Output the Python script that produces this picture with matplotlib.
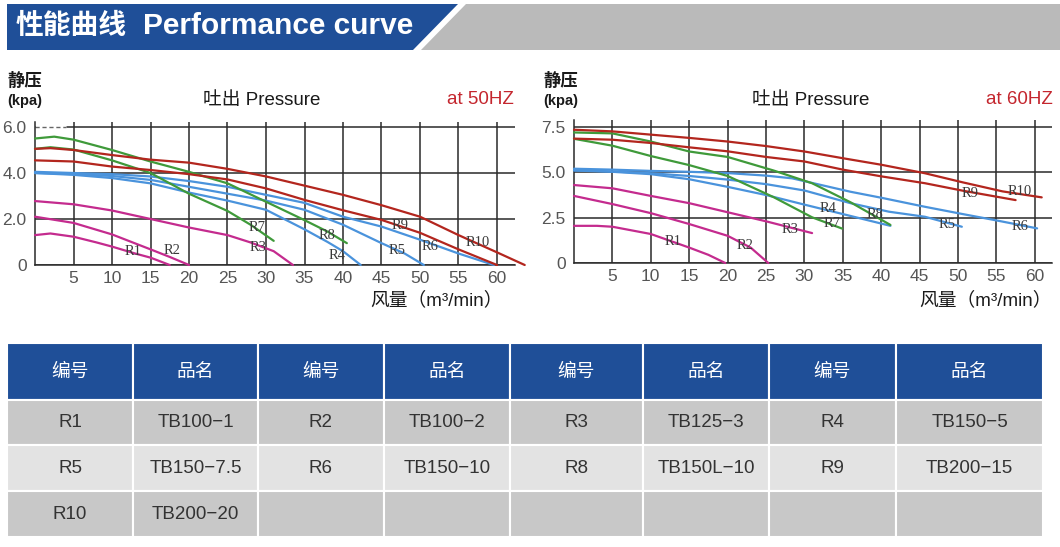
import matplotlib
matplotlib.use('Agg')
import matplotlib.pyplot as plt
from matplotlib.patches import Polygon

W, H = 1060, 547
CJK = ['Noto Sans CJK SC', 'DejaVu Sans']
LAT_CJK = ['Liberation Sans', 'Noto Sans CJK SC', 'DejaVu Sans']
NARROW = ['Liberation Sans Narrow', 'Liberation Sans', 'DejaVu Sans']
SANS = ['Liberation Sans', 'DejaVu Sans']
SERIF = ['Liberation Serif', 'DejaVu Serif']

# ---------------- data: 50 Hz (flow m3/min, static pressure kPa) ----------------
r1_50_q = [0, 2, 5, 8, 10, 13, 15, 17.5]
r1_50_p = [1.3, 1.37, 1.23, 0.98, 0.8, 0.5, 0.32, 0]
r2_50_q = [0, 5, 10, 15, 17.5, 20]
r2_50_p = [2.1, 1.83, 1.33, 0.68, 0.35, 0]
r3_50_q = [0, 5, 10, 15, 20, 25, 28, 31, 33.5]
r3_50_p = [2.78, 2.64, 2.37, 2.0, 1.63, 1.3, 0.98, 0.6, 0]
r4_50_q = [0, 5, 10, 15, 20, 25, 30, 35, 38, 40, 42.3]
r4_50_p = [4.0, 3.92, 3.78, 3.55, 3.15, 2.8, 2.4, 1.55, 1.0, 0.6, 0]
r5_50_q = [0, 5, 10, 15, 20, 25, 30, 35, 40, 45, 48, 50.5]
r5_50_p = [4.0, 3.95, 3.87, 3.7, 3.4, 3.1, 2.8, 2.4, 1.75, 0.95, 0.5, 0]
r6_50_q = [0, 5, 10, 15, 20, 25, 30, 35, 40, 45, 50, 55, 59.6]
r6_50_p = [4.05, 4.0, 3.95, 3.85, 3.65, 3.4, 3.05, 2.7, 2.1, 1.67, 1.1, 0.5, 0]
r7_50_q = [0, 2, 5, 10, 15, 20, 25, 28, 31]
r7_50_p = [5.05, 5.12, 5.02, 4.55, 4.0, 3.1, 2.35, 1.75, 1.05]
r8_50_q = [0, 2.5, 5, 10, 15, 20, 25, 30, 35, 38, 40.5]
r8_50_p = [5.5, 5.58, 5.45, 5.0, 4.5, 4.05, 3.55, 2.75, 1.95, 1.45, 0.95]
r9_50_q = [0, 5, 10, 15, 20, 25, 30, 35, 40, 45, 50, 55, 60]
r9_50_p = [4.55, 4.5, 4.28, 4.13, 3.95, 3.72, 3.33, 2.83, 2.38, 1.96, 1.4, 0.68, 0]
r10_50_q = [0, 2, 5, 10, 15, 20, 25, 30, 35, 40, 45, 50, 55, 60, 63.6]
r10_50_p = [5.05, 5.08, 5.0, 4.78, 4.58, 4.45, 4.18, 3.85, 3.45, 3.05, 2.6, 2.1, 1.3, 0.55, 0]

# ---------------- data: 60 Hz ----------------
r1_60_q = [0, 3, 5, 10, 15, 17.5, 19.7]
r1_60_p = [2.05, 2.05, 2.0, 1.6, 0.85, 0.45, 0]
r2_60_q = [0, 5, 10, 15, 20, 23, 25.3]
r2_60_p = [3.7, 3.25, 2.75, 2.15, 1.5, 0.85, 0]
r3_60_q = [0, 5, 10, 15, 20, 25, 31]
r3_60_p = [4.3, 4.12, 3.7, 3.3, 2.8, 2.3, 1.65]
r4_60_q = [0, 5, 10, 15, 20, 25, 30, 35, 41.2]
r4_60_p = [5.1, 5.03, 4.9, 4.62, 4.2, 3.75, 3.22, 2.7, 2.05]
r5_60_q = [0, 5, 10, 15, 20, 25, 30, 36, 41, 45.7, 50.5]
r5_60_p = [5.12, 5.05, 4.95, 4.8, 4.6, 4.35, 4.0, 3.3, 2.83, 2.55, 2.0]
r6_60_q = [0, 5, 10, 15, 20, 25, 28.4, 36, 40, 45.7, 50.6, 55, 60.3]
r6_60_p = [5.2, 5.15, 5.08, 5.03, 4.96, 4.82, 4.67, 3.93, 3.6, 3.1, 2.7, 2.35, 1.91]
r7_60_q = [0, 5, 10, 15, 20, 26, 31, 34.9]
r7_60_p = [6.85, 6.47, 5.9, 5.4, 4.8, 3.63, 2.52, 1.9]
r8_60_q = [0, 5, 10, 15, 20, 26, 31, 36, 41.2]
r8_60_p = [7.2, 7.15, 6.7, 6.15, 5.85, 5.1, 4.4, 3.35, 2.1]
r9_60_q = [0, 5, 10, 15, 20, 25, 30, 35, 40, 45.7, 50.6, 57.5]
r9_60_p = [6.86, 6.8, 6.62, 6.38, 6.16, 5.85, 5.6, 5.15, 4.78, 4.4, 3.99, 3.47]
r10_60_q = [0, 5, 10, 15, 20, 25, 30, 35, 40, 45.7, 50.6, 55.8, 60.9]
r10_60_p = [7.35, 7.26, 7.08, 6.9, 6.7, 6.45, 6.15, 5.78, 5.42, 4.95, 4.45, 3.95, 3.62]

curve_names = ['R1', 'R2', 'R3', 'R4', 'R5', 'R6', 'R7', 'R8', 'R9', 'R10']
x_ticks = [5, 10, 15, 20, 25, 30, 35, 40, 45, 50, 55, 60]
y_ticks_50 = [0, 2, 4, 6]
y_labels_50 = ['0', '2.0', '4.0', '6.0']
y_ticks_60 = [0, 2.5, 5, 7.5]
y_labels_60 = ['0', '2.5', '5.0', '7.5']

# table content
table_header = ['编号', '品名'] * 4
table_row1 = ['R1', 'TB100−1', 'R2', 'TB100−2', 'R3', 'TB125−3', 'R4', 'TB150−5']
table_row2 = ['R5', 'TB150−7.5', 'R6', 'TB150−10', 'R8', 'TB150L−10', 'R9', 'TB200−15']
table_row3 = ['R10', 'TB200−20', '', '', '', '', '', '']

# ---------------- styling / layout ----------------
MAG, GRN, BLU, RED = '#c42b8e', '#3f9a3a', '#4a93dc', '#b3261e'
colors = [MAG, MAG, MAG, BLU, BLU, BLU, GRN, GRN, RED, RED]
label_pos_50 = [(12.7, 0.57), (17.8, 0.65), (29.0, 0.74), (39.2, 0.43), (47.0, 0.65),
                (51.3, 0.8), (28.8, 1.61), (37.9, 1.3), (47.4, 1.7), (57.5, 1.0)]
label_pos_60 = [(12.9, 1.16), (22.3, 0.99), (28.1, 1.84), (33.1, 3.03), (48.6, 2.1),
                (58.1, 2.0), (33.6, 2.2), (39.2, 2.66), (51.6, 3.86), (58.1, 3.92)]

fig = plt.figure(figsize=(W / 100, H / 100), dpi=100)
bg = fig.add_axes([0, 0, 1, 1], zorder=0)
bg.set_xlim(0, W)
bg.set_ylim(H, 0)
bg.axis('off')

# header banner
bg.add_patch(Polygon([(7, 4), (458, 4), (413, 50), (7, 50)], closed=True,
                     facecolor='#1f4f98', edgecolor='none'))
bg.add_patch(Polygon([(466, 4), (1060, 4), (1060, 50), (421, 50)], closed=True,
                     facecolor='#bababa', edgecolor='none'))
bg.text(16, 26, '性能曲线', color='white', fontsize=20,
        fontweight='bold', family=CJK, va='center', ha='left')
bg.text(143, 26, 'Performance curve', color='white', fontsize=21.5,
        fontweight='bold', family=SANS, va='center', ha='left')

# chart side texts
for x0, t_center, hz_right, hz in [(7, 262, 514, 'at 50HZ'), (543, 811, 1053, 'at 60HZ')]:
    bg.text(x0, 81, '静压', fontsize=12.5, fontweight='bold', family=CJK,
            va='center', ha='left', color='#1a1a1a')
    bg.text(x0, 101, '(kpa)', fontsize=10.5, fontweight='bold', family=SANS,
            va='center', ha='left', color='#1a1a1a')
    bg.text(t_center, 100, '吐出 Pressure', fontsize=13.5, family=LAT_CJK,
            va='center', ha='center', color='#1a1a1a')
    bg.text(hz_right, 100, hz, fontsize=13.5, family=SANS,
            va='center', ha='right', color='#c4262e')
bg.text(503, 300, '风量（m³/min）', fontsize=13.5, family=LAT_CJK, va='center', ha='right', color='#1a1a1a')
bg.text(1052, 300, '风量（m³/min）', fontsize=13.5, family=LAT_CJK, va='center', ha='right', color='#1a1a1a')

# table
col_w = [126, 125, 126, 126, 133, 126, 127, 147]
tot_w = sum(col_w)
tx0, tx1, ty0, ty1 = 7, 1043, 343, 537
tbl = bg.table(cellText=[table_header, table_row1, table_row2, table_row3],
               colWidths=[w / tot_w for w in col_w], cellLoc='center',
               bbox=[tx0 / W, 1 - ty1 / H, (tx1 - tx0) / W, (ty1 - ty0) / H])
tbl.auto_set_font_size(False)
row_fc = ['#1f4f98', '#c8c8c8', '#e3e3e3', '#c8c8c8']
for (r, c), cell in tbl.get_celld().items():
    cell.set_edgecolor('white')
    cell.set_linewidth(1.5)
    cell.set_height(57 if r == 0 else 46)
    cell.set_facecolor(row_fc[r])
    txt = cell.get_text()
    txt.set_fontsize(13.5)
    if r == 0:
        txt.set_color('white')
        txt.set_fontfamily(CJK)
    else:
        txt.set_color('#333333')
        txt.set_fontfamily(SANS)

# ---------------- charts ----------------
def make_axes(x_left, x_right, y_zero, y_top, ymax, yticks, ylabels):
    ax = fig.add_axes([x_left / W, 1 - y_zero / H, (x_right - x_left) / W, (y_zero - y_top) / H],
                      zorder=2)
    ax.set_facecolor('none')
    ax.set_ylim(0, ymax)
    ax.set_xticks(x_ticks)
    ax.set_xticklabels([str(v) for v in x_ticks])
    ax.set_yticks(yticks)
    ax.set_yticklabels(ylabels)
    ax.grid(True, color='#2a2a2a', lw=1.1)
    for s in ['top', 'right']:
        ax.spines[s].set_visible(False)
    for s in ['left', 'bottom']:
        ax.spines[s].set_color('#2a2a2a')
        ax.spines[s].set_linewidth(1.1)
    ax.tick_params(axis='both', length=0, labelsize=12.5, labelcolor='#555555')
    ax.tick_params(axis='x', pad=4)
    ax.tick_params(axis='y', pad=6)
    for lab in ax.get_xticklabels() + ax.get_yticklabels():
        lab.set_fontfamily(NARROW)
    return ax


ax50 = make_axes(35, 515, 265, 122, 143 / 23.0, y_ticks_50, y_labels_50)
ax50.set_xlim(0, (515 - 35) / 7.7)
ax60 = make_axes(574, 1052, 263, 120, 143 / 18.13, y_ticks_60, y_labels_60)
ax60.set_xlim(0, (1052 - 574) / 7.68)

# dashed start of the top 6.0 line
ax50.hlines(6, 0, 4, colors='white', lw=2.2, zorder=2)
ax50.hlines(6, 0, 4, colors='#666666', lw=1.0, linestyles=(0, (3, 2)), zorder=2.1)

series_50 = [(r1_50_q, r1_50_p), (r2_50_q, r2_50_p), (r3_50_q, r3_50_p), (r4_50_q, r4_50_p),
             (r5_50_q, r5_50_p), (r6_50_q, r6_50_p), (r7_50_q, r7_50_p), (r8_50_q, r8_50_p),
             (r9_50_q, r9_50_p), (r10_50_q, r10_50_p)]
series_60 = [(r1_60_q, r1_60_p), (r2_60_q, r2_60_p), (r3_60_q, r3_60_p), (r4_60_q, r4_60_p),
             (r5_60_q, r5_60_p), (r6_60_q, r6_60_p), (r7_60_q, r7_60_p), (r8_60_q, r8_60_p),
             (r9_60_q, r9_60_p), (r10_60_q, r10_60_p)]

for ax, series, lpos in [(ax50, series_50, label_pos_50), (ax60, series_60, label_pos_60)]:
    for (q, p), col, name, (lx, ly) in zip(series, colors, curve_names, lpos):
        ax.plot(q, p, color=col, lw=1.6, solid_capstyle='round', solid_joinstyle='round',
                clip_on=False, zorder=3)
        ax.text(lx, ly, name, family=SERIF, fontsize=10.5, color='#3a3a3a',
                ha='center', va='center', zorder=4)

fig.savefig('out.png', dpi=100)
